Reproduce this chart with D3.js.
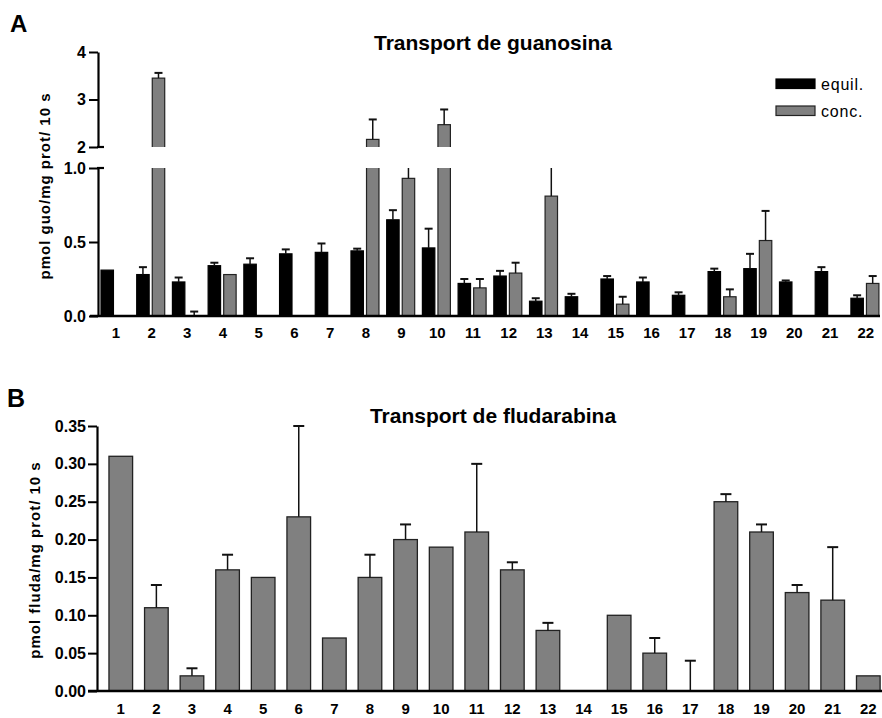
<!DOCTYPE html>
<html>
<head>
<meta charset="utf-8">
<script src="https://cdn.jsdelivr.net/npm/d3@7"></script>
<style>
  body { margin: 0; background: #fff; }
  svg { display: block; font-family: "Liberation Sans", Arial, sans-serif; }
  .tick text { font-family: "Liberation Sans", Arial, sans-serif; font-weight: bold; fill: #000; }
</style>
</head>
<body>
<svg id="chart" width="882" height="718"></svg>
<script>
// cell lines 1..22
var categories = d3.range(1, 23).map(String);

// panel A: guanosine transport (pmol guo/mg prot/10 s)
var equilValues = [0.31, 0.28, 0.23, 0.34, 0.35, 0.42, 0.43, 0.44, 0.65, 0.46, 0.22, 0.27, 0.10, 0.13, 0.25, 0.23, 0.14, 0.30, 0.32, 0.23, 0.30, 0.12];
var equilErr    = [null, 0.05, 0.03, 0.02, 0.04, 0.03, 0.06, 0.015, 0.065, 0.13, 0.03, 0.035, 0.02, 0.02, 0.02, 0.03, 0.02, 0.02, 0.10, 0.01, 0.03, 0.02];
var concValues  = [null, 3.45, 0, 0.28, null, null, null, 2.16, 0.93, 2.47, 0.19, 0.29, 0.81, null, 0.08, null, null, 0.13, 0.51, null, null, 0.22];
var concErr     = [null, 0.11, 0.03, null, null, null, null, 0.42, 0.12, 0.32, 0.06, 0.07, 0.29, null, 0.05, null, null, 0.05, 0.20, null, null, 0.05];
var seriesNames = ["equil.", "conc."];
var lowerTicks = [0, 0.5, 1.0];
var upperTicks = [2, 3, 4];

// panel B: fludarabine transport (pmol fluda/mg prot/10 s)
var fludaValues = [0.31, 0.11, 0.02, 0.16, 0.15, 0.23, 0.07, 0.15, 0.20, 0.19, 0.21, 0.16, 0.08, 0, 0.10, 0.05, 0, 0.25, 0.21, 0.13, 0.12, 0.02];
var fludaErr    = [null, 0.03, 0.01, 0.02, null, 0.12, null, 0.03, 0.02, null, 0.09, 0.01, 0.01, null, null, 0.02, 0.04, 0.01, 0.01, 0.01, 0.07, null];
var fludaTicks = [0, 0.05, 0.10, 0.15, 0.20, 0.25, 0.30, 0.35];

var svg = d3.select("#chart");
var fillGray = "#808080", edgeGray = "#222";

// ---------- panel A ----------
var gA = svg.append("g");

var xA = d3.scaleBand().domain(categories).range([98, 98 + 22 * 35.71]);
var xInner = d3.scaleBand().domain(seriesNames).range([3, 31]).paddingInner(0.2);
var yLow = d3.scaleLinear().domain([0, 1]).range([316, 168]);
var yUp  = d3.scaleLinear().domain([2, 4]).range([147, 52]);

// value -> pixel over broken axis (values between 1 and 2 sit at the break)
function yBroken(v) {
    if (v <= 1) return yLow(v);
    if (v < 2) return yLow(1);
    return yUp(v);
}

// clip regions for the two axis segments
var defs = svg.append("defs");
defs.append("clipPath").attr("id", "clipLow").append("rect")
    .attr("x", 0).attr("width", 882).attr("y", yLow(1)).attr("height", yLow(0) - yLow(1) + 5);
defs.append("clipPath").attr("id", "clipUp").append("rect")
    .attr("x", 0).attr("width", 882).attr("y", 0).attr("height", yUp(2));

var groups = categories.map(function (c, i) {
    return [
        { cat: c, key: "equil.", v: equilValues[i], e: equilErr[i] },
        { cat: c, key: "conc.", v: concValues[i], e: concErr[i] }
    ];
});
var barsA = d3.merge(groups).filter(function (d) { return d.v !== null; });

var colA = function (d) { return d.key === "equil." ? "#000" : fillGray; };
var edgeA = function (d) { return d.key === "equil." ? "#000" : edgeGray; };

// lower segment part of each bar (overshoots the break, clipped)
gA.append("g").attr("clip-path", "url(#clipLow)").selectAll("rect")
    .data(barsA.filter(function (d) { return d.v > 0; }))
    .join("rect")
    .attr("x", function (d) { return xA(d.cat) + xInner(d.key); })
    .attr("width", xInner.bandwidth())
    .attr("y", function (d) { return d.v > 1 ? yLow(1) - 5 : yLow(d.v); })
    .attr("height", function (d) { return yLow(0) - (d.v > 1 ? yLow(1) - 5 : yLow(d.v)); })
    .attr("fill", colA).attr("stroke", edgeA).attr("stroke-width", 1.2);

// upper segment part for tall bars
gA.append("g").attr("clip-path", "url(#clipUp)").selectAll("rect")
    .data(barsA.filter(function (d) { return d.v > 2; }))
    .join("rect")
    .attr("x", function (d) { return xA(d.cat) + xInner(d.key); })
    .attr("width", xInner.bandwidth())
    .attr("y", function (d) { return yUp(d.v); })
    .attr("height", function (d) { return yUp(2) - yUp(d.v) + 5; })
    .attr("fill", colA).attr("stroke", edgeA).attr("stroke-width", 1.2);

// error bars (up only)
var errA = barsA.filter(function (d) { return d.e !== null; });
var eg = gA.append("g").attr("stroke", "#111").attr("stroke-width", 1.5);
errA.forEach(function (d) {
    var cx = xA(d.cat) + xInner(d.key) + xInner.bandwidth() / 2;
    var top = d.v + d.e;
    var y0 = yBroken(d.v), y1 = yBroken(top);
    eg.append("line").attr("x1", cx).attr("x2", cx).attr("y1", y0).attr("y2", y1);
    var cut = top > 1 && top < 2;
    if (!cut) {
        eg.append("line").attr("x1", cx - 4).attr("x2", cx + 4).attr("y1", y1).attr("y2", y1).attr("stroke-width", 2);
    }
});

// axes A
var axLow = gA.append("g").attr("transform", "translate(98,0)")
    .call(d3.axisLeft(yLow).tickValues(lowerTicks).tickFormat(d3.format(".1f")).tickSize(9).tickSizeOuter(0).tickPadding(3));
var axUp = gA.append("g").attr("transform", "translate(98,0)")
    .call(d3.axisLeft(yUp).tickValues(upperTicks).tickFormat(d3.format("d")).tickSize(9).tickSizeOuter(0).tickPadding(3));
[axLow, axUp].forEach(function (a) {
    a.select(".domain").attr("stroke", "#000").attr("stroke-width", 2.2);
    a.selectAll(".tick line").attr("stroke", "#000").attr("stroke-width", 2);
    a.selectAll(".tick text").style("font-size", "16px");
});
// break caps
gA.append("line").attr("x1", 97).attr("x2", 104).attr("y1", yUp(2)).attr("y2", yUp(2)).attr("stroke", "#000").attr("stroke-width", 2.2);
gA.append("line").attr("x1", 97).attr("x2", 104).attr("y1", yLow(1)).attr("y2", yLow(1)).attr("stroke", "#000").attr("stroke-width", 2.2);

var axXA = gA.append("g").attr("transform", "translate(0," + yLow(0) + ")")
    .call(d3.axisBottom(xA).tickSize(0).tickPadding(11));
axXA.select(".domain").remove();
axXA.selectAll(".tick text").style("font-size", "15px");
gA.append("line").attr("x1", 90).attr("x2", 880).attr("y1", yLow(0)).attr("y2", yLow(0))
    .attr("stroke", "#000").attr("stroke-width", 2.5);

gA.append("text").attr("x", 10).attr("y", 32).text("A")
    .style("font-size", "24px").style("font-weight", "bold");
gA.append("text").attr("x", 493).attr("y", 50).attr("text-anchor", "middle")
    .text("Transport de guanosina").style("font-size", "21px").style("font-weight", "bold");
gA.append("text").attr("transform", "translate(50,186) rotate(-90)").attr("text-anchor", "middle")
    .text("pmol guo/mg prot/ 10 s").style("font-size", "15px").style("font-weight", "bold")
    .style("letter-spacing", "1px");

// legend
var leg = gA.append("g");
seriesNames.forEach(function (name, i) {
    var y = 79 + i * 27;
    leg.append("rect").attr("x", 776).attr("y", y).attr("width", 39).attr("height", 9.5)
        .attr("fill", i === 0 ? "#000" : fillGray).attr("stroke", i === 0 ? "#000" : edgeGray).attr("stroke-width", 1.2);
    leg.append("text").attr("x", 821).attr("y", y + 11).text(name)
        .style("font-size", "16px").style("letter-spacing", "0.8px");
});

// ---------- panel B ----------
var gB = svg.append("g");
var xB = d3.scaleBand().domain(categories).range([97, 97 + 22 * 36.14]).padding(0.336);
var yB = d3.scaleLinear().domain([0, 0.35]).range([691, 426]);

var barsB = categories.map(function (c, i) { return { cat: c, v: fludaValues[i], e: fludaErr[i] }; });

gB.append("g").selectAll("rect")
    .data(barsB.filter(function (d) { return d.v > 0; }))
    .join("rect")
    .attr("x", function (d) { return xB(d.cat); })
    .attr("width", xB.bandwidth())
    .attr("y", function (d) { return yB(d.v); })
    .attr("height", function (d) { return yB(0) - yB(d.v); })
    .attr("fill", fillGray).attr("stroke", edgeGray).attr("stroke-width", 1.3);

var egB = gB.append("g").attr("stroke", "#111").attr("stroke-width", 1.5);
barsB.filter(function (d) { return d.e !== null; }).forEach(function (d) {
    var cx = xB(d.cat) + xB.bandwidth() / 2;
    var y0 = yB(d.v), y1 = yB(d.v + d.e);
    egB.append("line").attr("x1", cx).attr("x2", cx).attr("y1", y0).attr("y2", y1);
    egB.append("line").attr("x1", cx - 5.5).attr("x2", cx + 5.5).attr("y1", y1).attr("y2", y1).attr("stroke-width", 2);
});

var axYB = gB.append("g").attr("transform", "translate(97,0)")
    .call(d3.axisLeft(yB).tickValues(fludaTicks).tickFormat(d3.format(".2f")).tickSize(9).tickSizeOuter(0).tickPadding(2));
axYB.select(".domain").attr("stroke", "#000").attr("stroke-width", 2.2);
axYB.selectAll(".tick line").attr("stroke", "#000").attr("stroke-width", 2);
axYB.selectAll(".tick text").style("font-size", "16px");

var axXB = gB.append("g").attr("transform", "translate(0," + yB(0) + ")")
    .call(d3.axisBottom(xB).tickSize(0).tickPadding(12));
axXB.select(".domain").remove();
axXB.selectAll(".tick text").style("font-size", "15px");
gB.append("line").attr("x1", 88).attr("x2", 882).attr("y1", yB(0)).attr("y2", yB(0))
    .attr("stroke", "#000").attr("stroke-width", 2.5);

gB.append("text").attr("x", 7).attr("y", 407).text("B")
    .style("font-size", "25px").style("font-weight", "bold");
gB.append("text").attr("x", 493).attr("y", 423).attr("text-anchor", "middle")
    .text("Transport de fludarabina").style("font-size", "21px").style("font-weight", "bold");
gB.append("text").attr("transform", "translate(40,560) rotate(-90)").attr("text-anchor", "middle")
    .text("pmol fluda/mg prot/ 10 s").style("font-size", "15px").style("font-weight", "bold")
    .style("letter-spacing", "1px");
</script>
</body>
</html>
